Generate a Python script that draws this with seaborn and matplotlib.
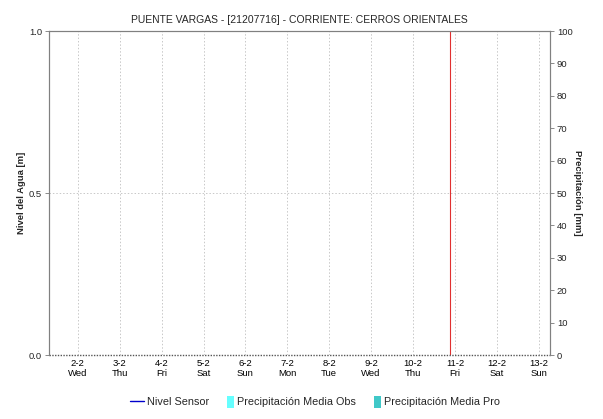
import matplotlib
matplotlib.use("Agg")
import matplotlib.pyplot as plt
import seaborn as sns
import numpy as np
import pandas as pd
from matplotlib.lines import Line2D
from matplotlib.patches import Patch, Rectangle
from matplotlib.legend_handler import HandlerPatch

# ---- data ----
day_numbers = [2, 3, 4, 5, 6, 7, 8, 9, 10, 11, 12, 13]
day_labels = ["2-2", "3-2", "4-2", "5-2", "6-2", "7-2", "8-2", "9-2", "10-2", "11-2", "12-2", "13-2"]
weekday_labels = ["Wed", "Thu", "Fri", "Sat", "Sun", "Mon", "Tue", "Wed", "Thu", "Fri", "Sat", "Sun"]
x_start, x_end = 1.31, 13.27
now_marker = 10.88          # red vertical line (current time)
nivel_time = []             # no sensor data in the window
nivel_values = []
precip_obs = []
precip_pro = []
level_ticks = [0.0, 0.5, 1.0]
precip_ticks = list(range(0, 101, 10))

sns.set_theme(style="white")
plt.rcParams['font.family'] = ['Liberation Sans', 'DejaVu Sans']

fig = plt.figure(figsize=(6.03, 4.19), dpi=100)
ax = fig.add_axes([49/603, 1-355/419, (550-49)/603, (355-31)/419])
ax2 = ax.twinx()

df = pd.DataFrame({"t": pd.Series(nivel_time, dtype=float), "nivel": pd.Series(nivel_values, dtype=float)})
sns.lineplot(data=df, x="t", y="nivel", ax=ax, color="#0000cc", linewidth=1)

ax.set_xlim(x_start, x_end)
ax.set_ylim(0, 1)
ax2.set_ylim(0, 100)

ax.set_xticks(day_numbers)
ax.set_xticklabels([f"{d}\n{w}" for d, w in zip(day_labels, weekday_labels)], fontsize=6.8, linespacing=1.1)
ax.set_yticks(level_ticks)
ax.set_yticklabels([f"{v:.1f}" for v in level_ticks], fontsize=6.8)
ax2.set_yticks(precip_ticks)
ax2.set_yticklabels([str(v) for v in precip_ticks], fontsize=6.8)

ax.tick_params(axis='x', length=0, pad=3, colors="#000000")
ax.tick_params(axis='y', length=3, width=0.6, color="#777777", pad=2, left=True)
ax2.tick_params(axis='y', length=3, width=0.6, color="#777777", pad=2, right=True)

# grid
for d in day_numbers:
    ax.axvline(d, color="#c8c8c8", linestyle=(0, (1.5, 2)), linewidth=0.7, zorder=0)
ax.axhline(0.5, color="#c8c8c8", linestyle=(0, (1.5, 2)), linewidth=0.7, zorder=0)

ax.axvline(now_marker, color="#e03030", linewidth=0.8)

for a in (ax, ax2):
    for s in ("left", "right", "top"):
        a.spines[s].set_color("#808080")
        a.spines[s].set_linewidth(0.8)
    a.spines["bottom"].set_visible(False)
ax.axhline(0, color="#555555", linestyle=(0, (1, 1)), linewidth=1.0, clip_on=False)

ax.set_xlabel("")
ax.set_ylabel("Nivel del Agua [m]", fontsize=6.8, fontweight="bold", labelpad=2)
ax2.set_ylabel("Precipitación [mm]", fontsize=6.8, fontweight="bold", rotation=270, labelpad=7)
ax.set_title("PUENTE VARGAS - [21207716] - CORRIENTE: CERROS ORIENTALES", fontsize=7.5, pad=6)


class NarrowPatch(HandlerPatch):
    def create_artists(self, legend, orig_handle, xdescent, ydescent, width, height, fontsize, trans):
        w = 5.0
        h = height * 1.25
        r = Rectangle((width - w - xdescent, -ydescent - (h - height) / 2), w, h,
                      facecolor=orig_handle.get_facecolor(), edgecolor="none", transform=trans)
        return [r]


handles = [Line2D([], [], color="#0000cc", linewidth=1),
           Patch(facecolor="#66ffff", edgecolor="none"),
           Patch(facecolor="#40c8c8", edgecolor="none")]
labels = ["Nivel Sensor", "Precipitación Media Obs", "Precipitación Media Pro"]
fig.legend(handles, labels, loc="center", bbox_to_anchor=(315/603, 1-402/419), ncol=3,
           frameon=False, fontsize=7.8, handlelength=1.3, handleheight=1.0, handletextpad=0.3,
           columnspacing=1.0, handler_map={Patch: NarrowPatch()})

fig.savefig("out.png", dpi=100)
